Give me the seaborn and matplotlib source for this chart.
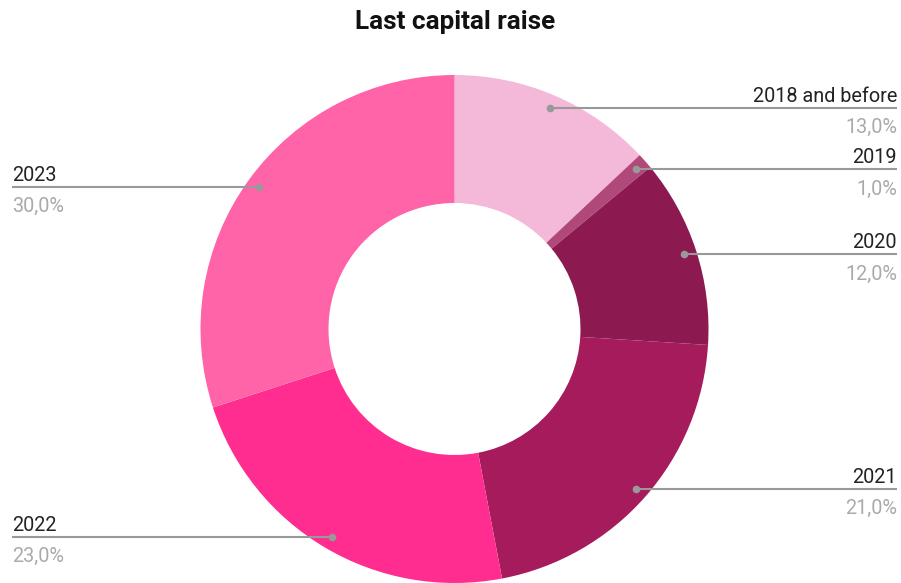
import numpy as np
import matplotlib
matplotlib.use("Agg")
import matplotlib.pyplot as plt
import seaborn as sns

categories = ["2018 and before", "2019", "2020", "2021", "2022", "2023"]
values = [13.0, 1.0, 12.0, 21.0, 23.0, 30.0]
pct_labels = ["13,0%", "1,0%", "12,0%", "21,0%", "23,0%", "30,0%"]
hex_colors = ["#f4b9d8", "#b0487a", "#8c1a50", "#a51b5b", "#ff2d8f", "#ff63a8"]

sns.set_theme(style="white")
plt.rcParams["font.family"] = ["Roboto", "DejaVu Sans"]
palette = sns.color_palette(hex_colors)

W, H = 901, 583
fig = plt.figure(figsize=(W / 100, H / 100), dpi=100)
ax = fig.add_axes([0, 0, 1, 1])

cx, cy = 454.5, H - 329
R = 254
hole = 126
ax.pie(values, colors=palette, startangle=90, counterclock=False,
       radius=R, center=(cx, cy),
       wedgeprops=dict(width=R - hole, linewidth=0))
ax.set_xlim(0, W)
ax.set_ylim(0, H)
ax.set_aspect("equal")
ax.axis("off")

total = sum(values)
cum = 0.0
dot_r = 0.95 * R
for cat, v, p in zip(categories, values, pct_labels):
    mid = (cum + v / 2) / total * 2 * np.pi
    cum += v
    dx = np.sin(mid) * dot_r
    dy = np.cos(mid) * dot_r
    px, py = cx + dx, cy + dy
    if dx >= 0:
        x_end, ha = 897, "right"
    else:
        x_end, ha = 12, "left"
    ax.plot([px, x_end], [py, py], color="#999999", lw=1.5, solid_capstyle="butt", zorder=3)
    ax.plot([px], [py], marker="o", ms=5.5, color="#999999", mec="none", zorder=4)
    ax.text(x_end, py + 6, cat, ha=ha, va="baseline", fontsize=14.3, color="#222222")
    ax.text(x_end, py - 25, p, ha=ha, va="baseline", fontsize=14.3, color="#aaaaaa")

fig.text(455 / W, 1 - 22 / H, "Last capital raise", ha="center", va="center",
         fontsize=18.8, fontweight="bold", color="#111111")

fig.savefig("out.png", dpi=100, facecolor="white")
